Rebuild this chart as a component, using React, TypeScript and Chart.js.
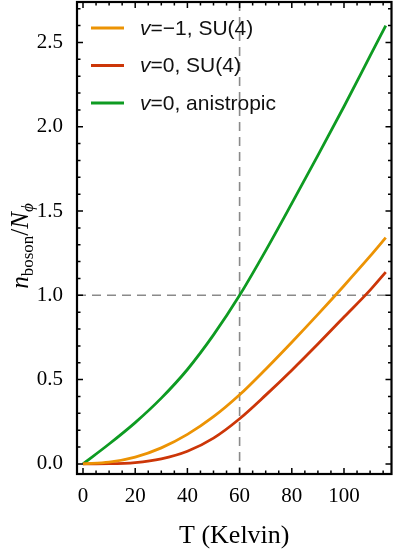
import React, { useEffect, useRef } from "react";
import { Chart, registerables } from "chart.js";

Chart.register(...registerables);

// ---- data ----
const temperatures = [0, 10, 20, 30, 40, 50, 60, 70, 80, 90, 100, 110, 116];
const nOrange = [0, 0.01, 0.04, 0.095, 0.175, 0.28, 0.41, 0.562, 0.722, 0.887, 1.057, 1.232, 1.342];
const nRed = [0, 0.001, 0.008, 0.03, 0.075, 0.153, 0.268, 0.408, 0.556, 0.711, 0.871, 1.031, 1.138];
const nGreen = [0, 0.118, 0.245, 0.39, 0.56, 0.765, 1.0, 1.265, 1.545, 1.83, 2.12, 2.42, 2.6];
const seriesLabels = ["v=\u22121, SU(4)", "v=0, SU(4)", "v=0, anistropic"];
const seriesColors = ["#EC9304", "#CC3608", "#0E9B22"];
const xTickValues = [0, 20, 40, 60, 80, 100];
const yTickValues = [0, 0.5, 1.0, 1.5, 2.0, 2.5];
const xMinorStep = 5;
const yMinorStep = 0.1;
const xLimits = [-2.3, 118.2];
const yLimits = [-0.06, 2.74];
const refT = 60;
const refN = 1.0;
const xTitle = "T (Kelvin)";

const SERIF = "'Liberation Serif', 'Times New Roman', serif";
const SANS = "'Liberation Sans', Arial, sans-serif";

const refLinesPlugin = {
  id: "refLines",
  beforeDatasetsDraw(chart: any) {
    const { ctx, chartArea, scales } = chart;
    const px = scales.x.getPixelForValue(refT);
    const py = scales.y.getPixelForValue(refN);
    ctx.save();
    ctx.strokeStyle = "#8a8a8a";
    ctx.lineWidth = 1.6;
    ctx.setLineDash([9, 6]);
    ctx.beginPath();
    ctx.moveTo(px, chartArea.top);
    ctx.lineTo(px, chartArea.bottom);
    ctx.moveTo(chartArea.left, py);
    ctx.lineTo(chartArea.right, py);
    ctx.stroke();
    ctx.restore();
  },
};

const framePlugin = {
  id: "frame",
  afterDraw(chart: any) {
    const { ctx, chartArea, scales } = chart;
    const { left, right, top, bottom } = chartArea;
    ctx.save();
    ctx.strokeStyle = "#000";
    ctx.lineWidth = 1.5;
    ctx.beginPath();
    const xs = scales.x;
    const ys = scales.y;
    const xStart = Math.ceil(xLimits[0] / xMinorStep);
    const xEnd = Math.floor(xLimits[1] / xMinorStep);
    for (let i = xStart; i <= xEnd; i++) {
      const v = i * xMinorStep;
      const p = xs.getPixelForValue(v);
      const major = xTickValues.includes(v);
      const len = major ? 6 : 3.5;
      ctx.moveTo(p, bottom);
      ctx.lineTo(p, bottom - len);
      ctx.moveTo(p, top);
      ctx.lineTo(p, top + len);
    }
    const yStart = Math.ceil(yLimits[0] / yMinorStep - 1e-9);
    const yEnd = Math.floor(yLimits[1] / yMinorStep + 1e-9);
    for (let i = yStart; i <= yEnd; i++) {
      const v = i * yMinorStep;
      const p = ys.getPixelForValue(v);
      const major = yTickValues.some((t) => Math.abs(t - v) < 1e-6);
      const len = major ? 6 : 3.5;
      ctx.moveTo(left, p);
      ctx.lineTo(left + len, p);
      ctx.moveTo(right, p);
      ctx.lineTo(right - len, p);
    }
    ctx.stroke();
    ctx.lineWidth = 2.2;
    ctx.strokeRect(left, top, right - left, bottom - top);
    ctx.restore();
  },
};

const titlesPlugin = {
  id: "titles",
  afterDraw(chart: any) {
    const { ctx, chartArea } = chart;
    ctx.save();
    ctx.fillStyle = "#000";
    ctx.font = `26px ${SERIF}`;
    ctx.textAlign = "center";
    ctx.textBaseline = "alphabetic";
    ctx.fillText(xTitle, (chartArea.left + chartArea.right) / 2, 543);

    const parts = [
      { t: "n", font: `italic 25px ${SERIF}`, dy: 0 },
      { t: "boson", font: `17px ${SERIF}`, dy: 5 },
      { t: "/", font: `25px ${SERIF}`, dy: 0 },
      { t: "N", font: `italic 25px ${SERIF}`, dy: 0 },
      { t: "\u03D5", font: `italic 17px ${SERIF}`, dy: 5 },
    ];
    let total = 0;
    const widths = parts.map((p) => {
      ctx.font = p.font;
      const w = ctx.measureText(p.t).width;
      total += w;
      return w;
    });
    ctx.translate(28, 246);
    ctx.rotate(-Math.PI / 2);
    ctx.textAlign = "left";
    let x = -total / 2;
    parts.forEach((p, i) => {
      ctx.font = p.font;
      ctx.fillText(p.t, x, p.dy);
      x += widths[i];
    });
    ctx.restore();
  },
};

const legendPlugin = {
  id: "customLegend",
  afterDraw(chart: any) {
    const { ctx, chartArea } = chart;
    ctx.save();
    chart.data.datasets.forEach((ds: any, i: number) => {
      const y = chartArea.top + 26 + i * 37.5;
      ctx.strokeStyle = ds.borderColor;
      ctx.lineWidth = 2.8;
      ctx.beginPath();
      ctx.moveTo(chartArea.left + 14, y);
      ctx.lineTo(chartArea.left + 47, y);
      ctx.stroke();
      const label: string = ds.label;
      ctx.fillStyle = "#111";
      ctx.textBaseline = "middle";
      ctx.textAlign = "left";
      let x = chartArea.left + 63;
      ctx.font = `italic 21px ${SANS}`;
      ctx.fillText(label[0], x, y + 1);
      x += ctx.measureText(label[0]).width;
      ctx.font = `21px ${SANS}`;
      ctx.fillText(label.slice(1), x, y + 1);
    });
    ctx.restore();
  },
};

export default function App() {
  const canvasRef = useRef<HTMLCanvasElement | null>(null);

  useEffect(() => {
    document.body.style.margin = "0";
    const canvas = canvasRef.current;
    if (!canvas) return;
    const series = [nOrange, nRed, nGreen];
    const chart = new Chart(canvas, {
      type: "line",
      data: {
        datasets: series.map((vals, i) => ({
          label: seriesLabels[i],
          data: temperatures.map((t, j) => ({ x: t, y: vals[j] })),
          borderColor: seriesColors[i],
          backgroundColor: seriesColors[i],
          borderWidth: 2.8,
          pointRadius: 0,
          cubicInterpolationMode: "monotone" as const,
          fill: false,
        })),
      },
      options: {
        animation: false,
        responsive: false,
        maintainAspectRatio: false,
        layout: { padding: { top: 2, right: 3.5, left: 0, bottom: 0 } },
        plugins: {
          legend: { display: false },
          tooltip: { enabled: false },
        },
        scales: {
          x: {
            type: "linear",
            min: xLimits[0],
            max: xLimits[1],
            grid: { display: false },
            border: { display: false },
            afterBuildTicks: (s: any) => {
              s.ticks = xTickValues.map((v) => ({ value: v }));
            },
            afterFit: (s: any) => {
              s.height = 81;
              s.paddingLeft = 0;
              s.paddingRight = 0;
            },
            ticks: {
              font: { family: SERIF, size: 21 },
              color: "#000",
              padding: 2,
              maxRotation: 0,
              callback: (v: any) => String(v),
            },
          },
          y: {
            type: "linear",
            min: yLimits[0],
            max: yLimits[1],
            grid: { display: false },
            border: { display: false },
            afterBuildTicks: (s: any) => {
              s.ticks = yTickValues.map((v) => ({ value: v }));
            },
            afterFit: (s: any) => {
              s.width = 77;
              s.paddingTop = 0;
              s.paddingBottom = 0;
            },
            ticks: {
              font: { family: SERIF, size: 21 },
              color: "#000",
              padding: 6,
              callback: (v: any) => Number(v).toFixed(1),
            },
          },
        },
      },
      plugins: [refLinesPlugin, framePlugin, titlesPlugin, legendPlugin],
    });
    return () => chart.destroy();
  }, []);

  return (
    <div style={{ width: 395, height: 555, background: "#fff" }}>
      <canvas ref={canvasRef} width={395} height={555} style={{ display: "block" }} />
    </div>
  );
}
